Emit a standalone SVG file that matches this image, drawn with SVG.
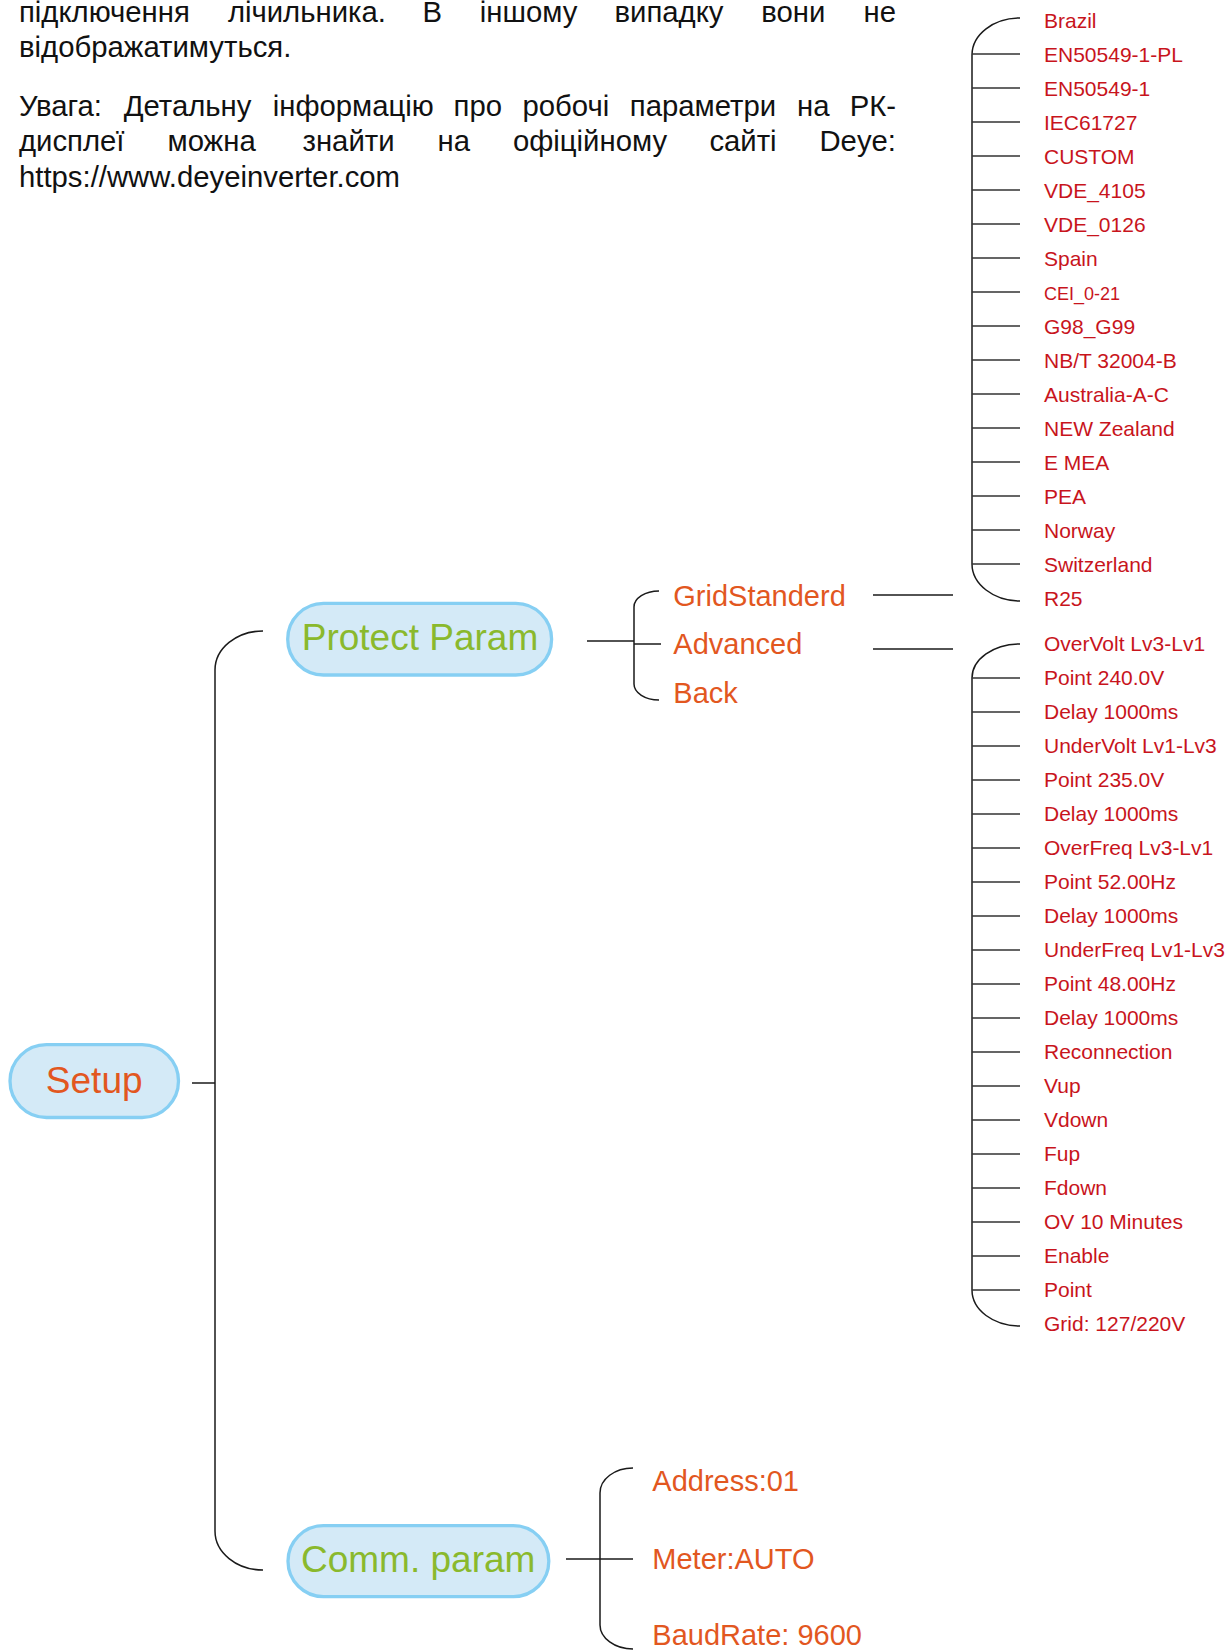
<svg xmlns="http://www.w3.org/2000/svg" width="1231" height="1650" viewBox="0 0 1231 1650">
<style>
  text { font-family: "Liberation Sans", Arial, "Noto Sans", sans-serif; }
  .para { font-size: 29.3px; fill: #111; }
  .node-box { fill: #D4EAF7; stroke: #86CFF3; stroke-width: 3.3; }
  .main { font-size: 37px; text-anchor: middle; }
  .green { fill: #8AB92D; }
  .orange { fill: #E2571F; }
  .sub { font-size: 29px; fill: #E2571F; }
  .leaf { font-size: 21px; fill: #C8141C; }
  .conn { fill: none; stroke: #1a1a1a; stroke-width: 1.5; }
  .tick { fill: none; stroke: #333; stroke-width: 1.5; }
</style>

<g id="paragraph">
  <text class="para" y="22"><tspan x="19">підключення</tspan><tspan x="227.9">лічильника.</tspan><tspan x="422.4">В</tspan><tspan x="479.7">іншому</tspan><tspan x="614.5">випадку</tspan><tspan x="761.2">вони</tspan><tspan x="896" text-anchor="end">не</tspan></text>
  <text class="para" x="19" y="57">відображатимуться.</text>
  <text class="para" y="115.5"><tspan x="19">Увага:</tspan><tspan x="123.7">Детальну</tspan><tspan x="272.7">інформацію</tspan><tspan x="453.6">про</tspan><tspan x="522.5">робочі</tspan><tspan x="629.8">параметри</tspan><tspan x="797.1">на</tspan><tspan x="896" text-anchor="end">РК-</tspan></text>
  <text class="para" y="151"><tspan x="19">дисплеї</tspan><tspan x="167.5">можна</tspan><tspan x="302.5">знайти</tspan><tspan x="437.5">на</tspan><tspan x="512.9">офіційному</tspan><tspan x="709.4">сайті</tspan><tspan x="896" text-anchor="end">Deye:</tspan></text>
  <text class="para" x="19" y="186.5">https://www.deyeinverter.com</text>
</g>

<g id="connectors">
  <path class="conn" d="M192,1083 H215"/>
  <path class="conn" d="M263,631 C236.5,631 215,648.5 215,670 V1531 C215,1552.5 236.5,1570 263,1570"/>
  <path class="conn" d="M587,641 H634"/>
  <path class="conn" d="M659,591 C645.2,591 634,598.2 634,607 V684 C634,692.8 645.2,700 659,700"/>
  <path class="conn" d="M634,644 H661"/>
  <path class="conn" d="M873,595 H953"/>
  <path class="conn" d="M873,649 H953"/>
  <path class="conn" d="M566,1559 H633"/>
  <path class="conn" d="M633,1468 C614.8,1468 600,1479 600,1493 V1625 C600,1638 614.8,1649 633,1649"/>
  <path class="conn" d="M1020,18 C993.5,18 972,34.6 972,55 V564 C972,584 993.5,601 1020,601"/>
  <path class="tick" d="M972,54 H1020 M972,88 H1020 M972,122 H1020 M972,156 H1020 M972,190 H1020 M972,224 H1020 M972,258 H1020 M972,292 H1020 M972,326 H1020 M972,360 H1020 M972,394 H1020 M972,428 H1020 M972,462 H1020 M972,496 H1020 M972,530 H1020 M972,564 H1020"/>
  <path class="conn" d="M1020,644 C993.5,644 972,659.2 972,678 V1290 C972,1310 993.5,1326 1020,1326"/>
  <path class="tick" d="M972,678 H1020 M972,712 H1020 M972,746 H1020 M972,780 H1020 M972,814 H1020 M972,848 H1020 M972,882 H1020 M972,916 H1020 M972,950 H1020 M972,984 H1020 M972,1018 H1020 M972,1052 H1020 M972,1086 H1020 M972,1120 H1020 M972,1154 H1020 M972,1188 H1020 M972,1222 H1020 M972,1256 H1020 M972,1290 H1020"/>
</g>

<g id="node-setup">
  <rect class="node-box" x="10" y="1044.7" width="168.5" height="72.8" rx="36.4"/>
  <text class="main orange" x="94.2" y="1093">Setup</text>
</g>
<g id="node-protect-param">
  <rect class="node-box" x="287.7" y="603.4" width="263.9" height="71.6" rx="35.8"/>
  <text class="main green" x="420" y="650">Protect Param</text>
</g>
<g id="node-comm-param">
  <rect class="node-box" x="288" y="1525.7" width="260.8" height="70.9" rx="35.4"/>
  <text class="main green" x="418.2" y="1572">Comm. param</text>
</g>

<g id="node-gridstanderd"><text class="sub" x="673.3" y="606">GridStanderd</text></g>
<g id="node-advanced"><text class="sub" x="673.3" y="654">Advanced</text></g>
<g id="node-back"><text class="sub" x="673.3" y="702.7">Back</text></g>

<g id="node-address"><text class="sub" x="652.3" y="1490.7">Address:01</text></g>
<g id="node-meter"><text class="sub" x="652.3" y="1569.3">Meter:AUTO</text></g>
<g id="node-baudrate"><text class="sub" x="652.3" y="1645">BaudRate: 9600</text></g>

<g id="grid-standards">
  <g id="gs-brazil"><text class="leaf" x="1044" y="28.3">Brazil</text></g>
  <g id="gs-en50549-1-pl"><text class="leaf" x="1044" y="62.3">EN50549-1-PL</text></g>
  <g id="gs-en50549-1"><text class="leaf" x="1044" y="96.3">EN50549-1</text></g>
  <g id="gs-iec61727"><text class="leaf" x="1044" y="130.3">IEC61727</text></g>
  <g id="gs-custom"><text class="leaf" x="1044" y="164.3">CUSTOM</text></g>
  <g id="gs-vde4105"><text class="leaf" x="1044" y="198.3">VDE_4105</text></g>
  <g id="gs-vde0126"><text class="leaf" x="1044" y="232.3">VDE_0126</text></g>
  <g id="gs-spain"><text class="leaf" x="1044" y="266.3">Spain</text></g>
  <g id="gs-cei"><text class="leaf" x="1044" y="299.5" style="font-size:18px">CEI_0-21</text></g>
  <g id="gs-g98"><text class="leaf" x="1044" y="334.3">G98_G99</text></g>
  <g id="gs-nbt"><text class="leaf" x="1044" y="368.3">NB/T 32004-B</text></g>
  <g id="gs-australia"><text class="leaf" x="1044" y="402.3">Australia-A-C</text></g>
  <g id="gs-nz"><text class="leaf" x="1044" y="436.3">NEW Zealand</text></g>
  <g id="gs-emea"><text class="leaf" x="1044" y="470.3">E MEA</text></g>
  <g id="gs-pea"><text class="leaf" x="1044" y="504.3">PEA</text></g>
  <g id="gs-norway"><text class="leaf" x="1044" y="538.3">Norway</text></g>
  <g id="gs-switzerland"><text class="leaf" x="1044" y="572.3">Switzerland</text></g>
  <g id="gs-r25"><text class="leaf" x="1044" y="606.3">R25</text></g>
</g>

<g id="advanced-items">
  <g id="adv-1"><text class="leaf" x="1044" y="651">OverVolt Lv3-Lv1</text></g>
  <g id="adv-2"><text class="leaf" x="1044" y="685">Point 240.0V</text></g>
  <g id="adv-3"><text class="leaf" x="1044" y="719">Delay 1000ms</text></g>
  <g id="adv-4"><text class="leaf" x="1044" y="753">UnderVolt Lv1-Lv3</text></g>
  <g id="adv-5"><text class="leaf" x="1044" y="787">Point 235.0V</text></g>
  <g id="adv-6"><text class="leaf" x="1044" y="821">Delay 1000ms</text></g>
  <g id="adv-7"><text class="leaf" x="1044" y="855">OverFreq Lv3-Lv1</text></g>
  <g id="adv-8"><text class="leaf" x="1044" y="889">Point 52.00Hz</text></g>
  <g id="adv-9"><text class="leaf" x="1044" y="923">Delay 1000ms</text></g>
  <g id="adv-10"><text class="leaf" x="1044" y="957">UnderFreq Lv1-Lv3</text></g>
  <g id="adv-11"><text class="leaf" x="1044" y="991">Point 48.00Hz</text></g>
  <g id="adv-12"><text class="leaf" x="1044" y="1025">Delay 1000ms</text></g>
  <g id="adv-13"><text class="leaf" x="1044" y="1059">Reconnection</text></g>
  <g id="adv-14"><text class="leaf" x="1044" y="1093">Vup</text></g>
  <g id="adv-15"><text class="leaf" x="1044" y="1127">Vdown</text></g>
  <g id="adv-16"><text class="leaf" x="1044" y="1161">Fup</text></g>
  <g id="adv-17"><text class="leaf" x="1044" y="1195">Fdown</text></g>
  <g id="adv-18"><text class="leaf" x="1044" y="1229">OV 10 Minutes</text></g>
  <g id="adv-19"><text class="leaf" x="1044" y="1263">Enable</text></g>
  <g id="adv-20"><text class="leaf" x="1044" y="1297">Point</text></g>
  <g id="adv-21"><text class="leaf" x="1044" y="1331">Grid: 127/220V</text></g>
</g>
</svg>
